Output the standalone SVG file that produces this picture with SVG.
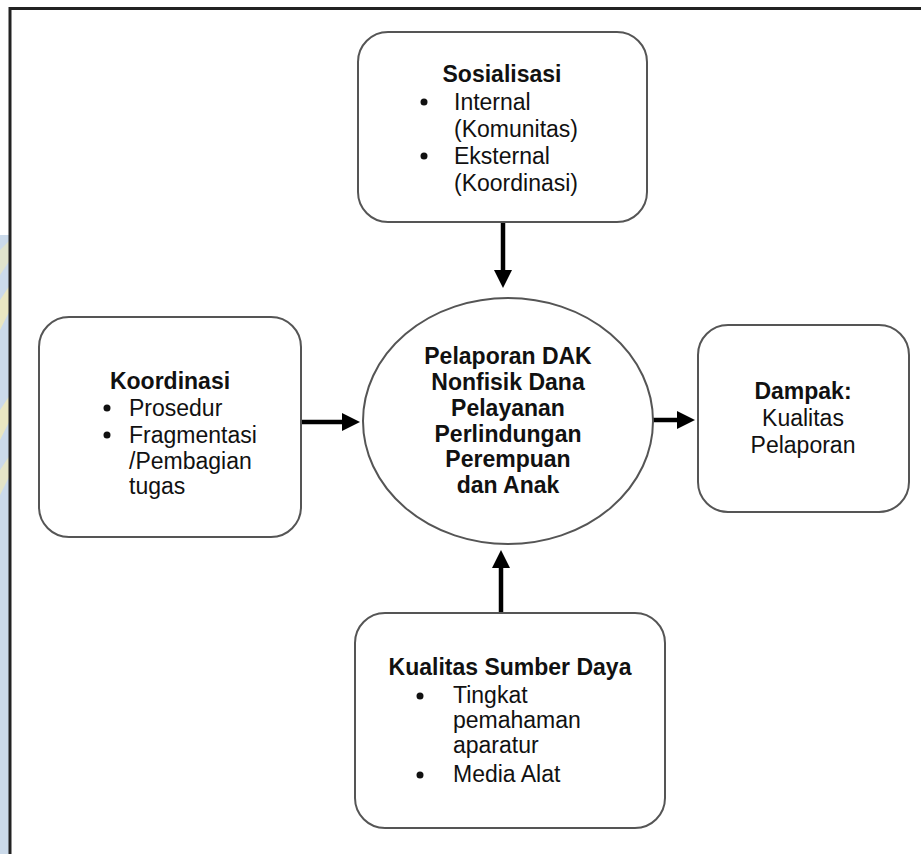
<svg xmlns="http://www.w3.org/2000/svg" width="921" height="854" viewBox="0 0 921 854">
<defs>
<style>
.box{fill:#fff;stroke:#555;stroke-width:2}
.t{font-family:"Liberation Sans",Arial,sans-serif;font-size:23px;fill:#111}
.b{font-weight:bold}
.c{text-anchor:middle}
.edge{stroke:#000;stroke-width:4.5;fill:none;marker-end:url(#ah)}
</style>
<marker id="ah" markerUnits="userSpaceOnUse" markerWidth="20" markerHeight="20" refX="1" refY="9" orient="auto">
<path d="M0,0 L18,9 L0,18 Z" fill="#000"/>
</marker>
</defs>
<rect x="0" y="0" width="921" height="854" fill="#fff"/>
<g id="watermark">
<rect x="0" y="235" width="10" height="619" fill="#cbdaea"/>
<path d="M0,300 L10,285 L10,310 L0,330 Z" fill="#f6ecb0" opacity="0.7"/>
<path d="M0,410 L10,395 L10,420 L0,440 Z" fill="#f6ecb0" opacity="0.7"/>
<path d="M0,470 L10,455 L10,475 L0,495 Z" fill="#f6ecb0" opacity="0.6"/>
<path d="M0,250 L10,240 L10,260 L0,275 Z" fill="#f6ecb0" opacity="0.5"/>
</g>
<g id="frame">
<path d="M10,854 L10,8.5 L921,8.5" fill="none" stroke="#222" stroke-width="3"/>
</g>
<g id="connectors">
<line class="edge" x1="503" y1="222" x2="503" y2="271"/>
<line class="edge" x1="301" y1="422" x2="343" y2="422"/>
<line class="edge" x1="653" y1="420" x2="678" y2="420"/>
<line class="edge" x1="501" y1="613" x2="501" y2="567"/>
</g>
<g id="sosialisasi">
<rect class="box" x="358" y="32" width="289" height="190" rx="30" ry="30"/>
<text class="t b c" x="502" y="82">Sosialisasi</text>
<circle cx="424" cy="102" r="3.5" fill="#111"/>
<text class="t" x="454" y="110">Internal</text>
<text class="t" x="454" y="137">(Komunitas)</text>
<circle cx="424" cy="156" r="3.5" fill="#111"/>
<text class="t" x="454" y="164">Eksternal</text>
<text class="t" x="454" y="191">(Koordinasi)</text>
</g>
<g id="koordinasi">
<rect class="box" x="39" y="317" width="262" height="220" rx="30" ry="30"/>
<text class="t b c" x="170" y="389">Koordinasi</text>
<circle cx="107" cy="408" r="3.5" fill="#111"/>
<text class="t" x="129" y="416">Prosedur</text>
<circle cx="107" cy="435" r="3.5" fill="#111"/>
<text class="t" x="129" y="443">Fragmentasi</text>
<text class="t" x="129" y="469">/Pembagian</text>
<text class="t" x="129" y="494">tugas</text>
</g>
<g id="pelaporan">
<ellipse class="box" cx="508" cy="421" rx="145" ry="123"/>
<text class="t b c" x="508" y="364">Pelaporan DAK</text>
<text class="t b c" x="508" y="390">Nonfisik Dana</text>
<text class="t b c" x="508" y="416">Pelayanan</text>
<text class="t b c" x="508" y="442">Perlindungan</text>
<text class="t b c" x="508" y="467">Perempuan</text>
<text class="t b c" x="508" y="493">dan Anak</text>
</g>
<g id="dampak">
<rect class="box" x="698" y="325" width="211" height="187" rx="30" ry="30"/>
<text class="t b c" x="803" y="399">Dampak:</text>
<text class="t c" x="803" y="426">Kualitas</text>
<text class="t c" x="803" y="453">Pelaporan</text>
</g>
<g id="kualitas">
<rect class="box" x="355" y="613" width="310" height="215" rx="30" ry="30"/>
<text class="t b c" x="510" y="675">Kualitas Sumber Daya</text>
<circle cx="420" cy="696" r="3.5" fill="#111"/>
<text class="t" x="453" y="703">Tingkat</text>
<text class="t" x="453" y="728">pemahaman</text>
<text class="t" x="453" y="753">aparatur</text>
<circle cx="420" cy="775" r="3.5" fill="#111"/>
<text class="t" x="453" y="782">Media Alat</text>
</g>
</svg>
